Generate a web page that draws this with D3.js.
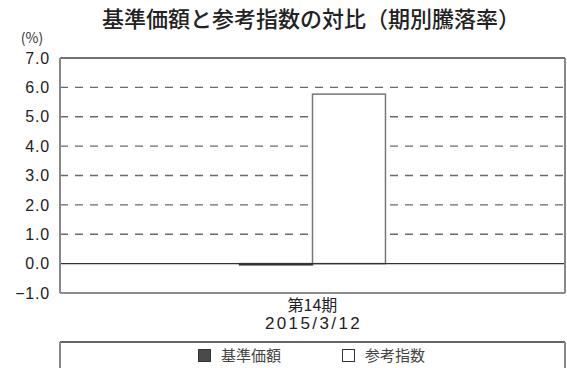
<!DOCTYPE html>
<html><head><meta charset="utf-8">
<script src="https://cdn.jsdelivr.net/npm/d3@7"></script>
<style>body{margin:0;background:#fff}svg{display:block}text{font-family:"Noto Sans CJK JP","Noto Sans",sans-serif}</style>
</head><body><svg id="c" width="567" height="368"></svg>
<script>
const categories = ["第14期\n2015/3/12"];
const seriesNames = ["基準価額", "参考指数"];
const fundValues = [-0.04];
const indexValues = [5.77];
const yTicks = [-1, 0, 1, 2, 3, 4, 5, 6, 7];
const seriesColors = ["#4a4a4a", "#ffffff"];

const svg = d3.select("#c");
const L = 60, R = 565, T = 58, B = 293;
const y = d3.scaleLinear().domain([-1, 7]).range([B, T]);
const x = d3.scaleBand().domain(categories).range([L, R]).padding(0);
const xs = d3.scaleBand().domain(seriesNames).range([0, x.bandwidth()]).paddingInner(0).paddingOuter(2.46);

svg.append("text").attr("x", 311).attr("y", 27).attr("text-anchor", "middle")
  .attr("font-size", 22).attr("font-weight", 500).attr("fill", "#222").text("基準価額と参考指数の対比（期別騰落率）");
svg.append("text").attr("x", 32).attr("y", 43).attr("text-anchor", "middle")
  .attr("font-size", 14).attr("fill", "#333").text("(%)");

// gridlines
svg.append("g").selectAll("line").data(yTicks.filter(d => d > 0 && d < 7)).join("line")
  .attr("x1", L).attr("x2", R).attr("y1", d => y(d)).attr("y2", d => y(d))
  .attr("stroke", "#6a6a6a").attr("stroke-width", 1.3).attr("stroke-dasharray", "8,7");

// y axis labels
const yAxis = d3.axisLeft(y).tickValues(yTicks).tickSize(0).tickPadding(10)
  .tickFormat(d => (d < 0 ? "\u2212" + Math.abs(d).toFixed(1) : d.toFixed(1)));
const ga = svg.append("g").attr("transform", `translate(${L},0)`).call(yAxis);
ga.select(".domain").remove();
ga.selectAll("text").attr("font-size", 16).attr("fill", "#222").attr("letter-spacing", 0.8)
  .style("font-family", "'Liberation Sans', Arial, sans-serif");

// bars
const data = [];
categories.forEach((c, i) => {
  data.push({c, s: seriesNames[0], v: fundValues[i], col: seriesColors[0]});
  data.push({c, s: seriesNames[1], v: indexValues[i], col: seriesColors[1]});
});
svg.append("g").selectAll("rect").data(data).join("rect")
  .attr("x", d => x(d.c) + xs(d.s)).attr("width", xs.bandwidth())
  .attr("y", d => y(Math.max(0, d.v))).attr("height", d => Math.max(1, Math.abs(y(d.v) - y(0))))
  .attr("fill", d => d.col).attr("stroke", d => d.s === seriesNames[1] ? "#777" : "#333").attr("stroke-width", 1.5);

// zero line
svg.append("line").attr("x1", L).attr("x2", R).attr("y1", y(0)).attr("y2", y(0))
  .attr("stroke", "#333").attr("stroke-width", 1.3);

// frame
svg.append("line").attr("x1", L).attr("x2", R).attr("y1", T).attr("y2", T).attr("stroke", "#444").attr("stroke-width", 1.3);
svg.append("line").attr("x1", L).attr("x2", R).attr("y1", B).attr("y2", B).attr("stroke", "#666").attr("stroke-width", 1.5);
svg.append("line").attr("x1", L).attr("x2", L).attr("y1", T).attr("y2", B).attr("stroke", "#888").attr("stroke-width", 2);
svg.append("line").attr("x1", R).attr("x2", R).attr("y1", T).attr("y2", B).attr("stroke", "#888").attr("stroke-width", 2);

// x labels
categories.forEach(c => {
  const lines = c.split("\n");
  const t = svg.append("text").attr("text-anchor", "middle").attr("fill", "#222");
  lines.forEach((ln, k) => {
    t.append("tspan").attr("x", x(c) + x.bandwidth() / 2 + (k === 0 ? 0 : 1)).attr("y", 311 + k * 18)
      .attr("font-size", k === 0 ? 16 : 17)
      .attr("letter-spacing", k === 0 ? 0 : 2.4)
      .style("font-family", k === 0 ? "'Noto Sans CJK JP'" : "'Liberation Sans', Arial, sans-serif")
      .text(ln);
  });
});

// legend box
svg.append("line").attr("x1", L).attr("x2", R).attr("y1", 342).attr("y2", 342).attr("stroke", "#333").attr("stroke-width", 1.3);
svg.append("line").attr("x1", L).attr("x2", L).attr("y1", 342).attr("y2", 368).attr("stroke", "#888").attr("stroke-width", 2);
svg.append("line").attr("x1", R).attr("x2", R).attr("y1", 342).attr("y2", 368).attr("stroke", "#888").attr("stroke-width", 2);
const lx = [198, 342];
seriesNames.forEach((s, i) => {
  svg.append("rect").attr("x", lx[i] + 0.5).attr("y", 349.5).attr("width", 12).attr("height", 12)
    .attr("fill", seriesColors[i]).attr("stroke", "#333").attr("stroke-width", 1);
  svg.append("text").attr("x", lx[i] + 23).attr("y", 361).attr("font-size", 15).attr("fill", "#444").text(s);
});
</script></body></html>
